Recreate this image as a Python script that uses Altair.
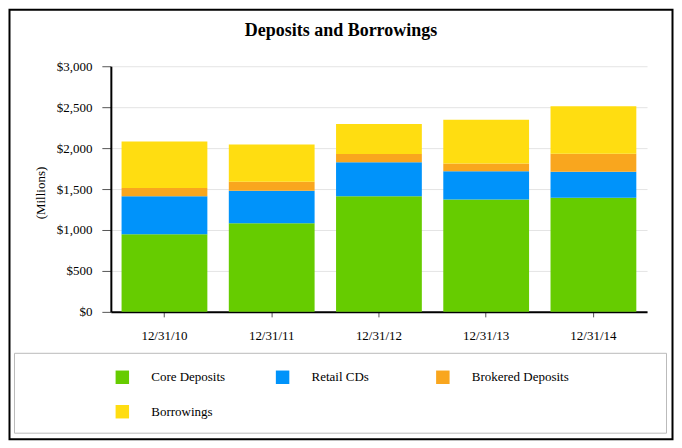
import altair as alt
import pandas as pd

TITLE = "Deposits and Borrowings"
Y_TITLE = "(Millions)"
dates = ["12/31/10", "12/31/11", "12/31/12", "12/31/13", "12/31/14"]
series = ["Core Deposits", "Retail CDs", "Brokered Deposits", "Borrowings"]
colors = ["#66CC00", "#0093FA", "#F9A61E", "#FFDD11"]
core_deposits = [948, 1082, 1411, 1371, 1395]
retail_cds = [463, 398, 415, 345, 317]
brokered_deposits = [101, 110, 101, 97, 220]
borrowings = [570, 455, 366, 533, 580]
y_ticks = [0, 500, 1000, 1500, 2000, 2500, 3000]

values = [core_deposits, retail_cds, brokered_deposits, borrowings]
rows = []
for si, (name, vals) in enumerate(zip(series, values)):
    for d, v in zip(dates, vals):
        rows.append({"date": d, "series": name, "value": v, "idx": si})
df = pd.DataFrame(rows)
one = pd.DataFrame({"t": [TITLE]})

FONT = "Liberation Serif"
W, H = 537, 246

frame = alt.Chart(one).mark_rect(filled=False, stroke="black", strokeWidth=2).encode(
    x=alt.value(-101.5), x2=alt.value(562.5), y=alt.value(-56.5), y2=alt.value(373.5)
)
legend_box = alt.Chart(one).mark_rect(filled=False, stroke="#bbbbbb", strokeWidth=1).encode(
    x=alt.value(-96.5), x2=alt.value(556.5), y=alt.value(287.5), y2=alt.value(367.5)
)
title = alt.Chart(one).mark_text(
    font=FONT, fontSize=18, fontWeight="bold", align="center", baseline="alphabetic", color="black"
).encode(text="t:N", x=alt.value(230.5), y=alt.value(-30.5))

bars = alt.Chart(df).mark_bar().encode(
    x=alt.X("date:N", sort=dates, title=None,
            scale=alt.Scale(paddingInner=0.2, paddingOuter=0.1),
            axis=alt.Axis(labelAngle=0, labelFont=FONT, labelFontSize=13, labelColor="black",
                          domainColor="black", domainWidth=2, tickColor="#555555",
                          tickSize=5, labelPadding=13, grid=False)),
    y=alt.Y("value:Q", stack="zero", title=Y_TITLE,
            scale=alt.Scale(domain=[0, 3000], nice=False),
            axis=alt.Axis(values=y_ticks, format="$,.0f", labelFont=FONT, labelFontSize=13,
                          labelColor="black", domainColor="black", domainWidth=2,
                          tickColor="#555555", tickSize=9, labelPadding=10,
                          gridColor="#e4e4e4", gridWidth=1,
                          titleFont=FONT, titleFontSize=13, titleFontWeight="normal",
                          titleColor="black", titleX=-70, titleY=126.5, titleBaseline="middle",
                          titleAngle=270)),
    color=alt.Color("series:N", title=None,
                    scale=alt.Scale(domain=series, range=colors),
                    legend=alt.Legend(orient="none", legendX=4.5, legendY=304.5,
                                      direction="horizontal", columns=3, gridAlign="all",
                                      symbolType="square", symbolSize=182, symbolStrokeWidth=0,
                                      labelFont=FONT, labelFontSize=13, labelColor="black",
                                      labelOffset=22, columnPadding=26.5, rowPadding=20.5,
                                      padding=0, labelLimit=300)),
    order=alt.Order("idx:Q", sort="ascending"),
)

chart = alt.layer(frame, legend_box, bars, title).properties(
    width=W, height=H, padding=0, background="white"
).configure_view(strokeWidth=0)

chart.save("out.html", embed_options={"renderer": "svg", "actions": False})
